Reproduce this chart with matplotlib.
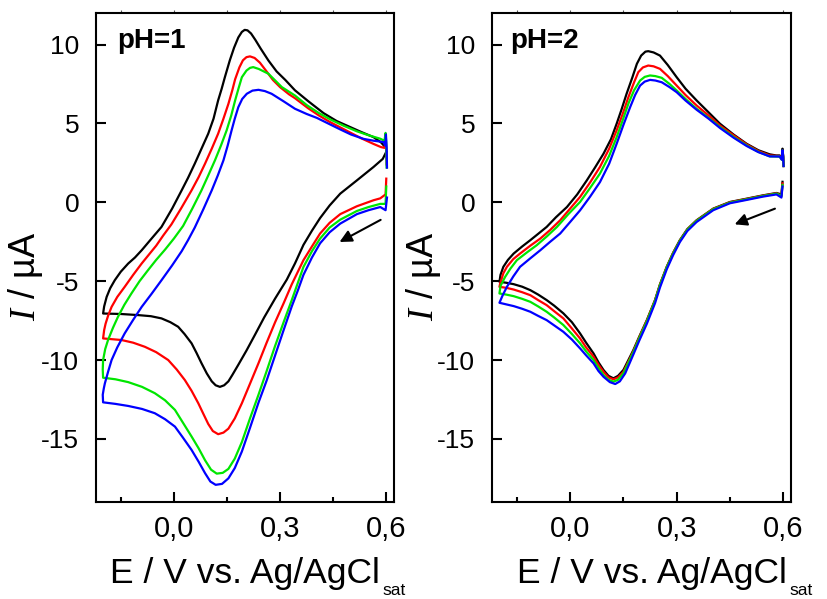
import matplotlib
matplotlib.use('Agg')
import matplotlib.pyplot as plt
from matplotlib.ticker import MultipleLocator, FuncFormatter
from matplotlib.transforms import IdentityTransform

# fonts: Arial-like text, italic serif I in the y label
plt.rcParams['font.family'] = ['Liberation Sans', 'DejaVu Sans']
plt.rcParams['mathtext.fontset'] = 'custom'
plt.rcParams['mathtext.rm'] = 'Liberation Sans'
plt.rcParams['mathtext.it'] = 'Liberation Serif:italic'
plt.rcParams['axes.unicode_minus'] = False

# ---------------- pH = 1 (each curve: cathodic sweep 0.6 -> -0.2, then anodic back to 0.6)
e_ph1_k = [0.600, 0.590, 0.564, 0.517, 0.470, 0.440, 0.413, 0.390, 0.366, 0.342, 0.319, 0.286, 0.255, 0.229,
           0.205, 0.182, 0.165, 0.154, 0.142, 0.130, 0.118, 0.107, 0.093, 0.078, 0.064, 0.050, 0.030,
           0.012, -0.010, -0.035, -0.065, -0.101, -0.150, -0.200,
           -0.197, -0.190, -0.180, -0.167, -0.150, -0.129, -0.110, -0.091, -0.065, -0.035, -0.005, 0.022,
           0.040, 0.059, 0.078, 0.097, 0.112, 0.125, 0.135, 0.144, 0.158, 0.170, 0.182, 0.192, 0.200,
           0.208, 0.218, 0.230, 0.245, 0.267, 0.290, 0.315, 0.342, 0.380, 0.423, 0.460, 0.498, 0.530,
           0.564, 0.585, 0.597]
i_ph1_k = [3.2, 2.75, 2.24, 1.39, 0.55, -0.2, -1.0, -1.8, -2.7, -3.88, -4.9, -6.1, -7.3, -8.4,
           -9.4, -10.3, -10.95, -11.35, -11.6, -11.7, -11.6, -11.35, -10.85, -10.2, -9.55, -8.94, -8.35,
           -7.89, -7.6, -7.36, -7.22, -7.15, -7.08, -7.05,
           -6.6, -6.0, -5.45, -4.94, -4.4, -3.88, -3.5, -3.04, -2.35, -1.56, -0.4, 0.76,
           1.55, 2.45, 3.4, 4.35, 5.3, 6.46, 7.2, 7.93, 9.0, 9.8, 10.45, 10.8, 10.93,
           10.9, 10.7, 10.3, 9.75, 8.99, 8.3, 7.75, 7.1, 6.4, 5.65, 5.15, 4.77, 4.45,
           4.13, 3.8, 3.5]

e_ph1_r = [0.600, 0.598, 0.583, 0.564, 0.517, 0.470, 0.440, 0.413, 0.390, 0.366, 0.333, 0.310, 0.286, 0.262,
           0.239, 0.215, 0.192, 0.172, 0.154, 0.140, 0.125, 0.110, 0.097, 0.083, 0.069, 0.050, 0.031,
           0.008, -0.016, -0.050, -0.082, -0.115, -0.148, -0.200,
           -0.197, -0.193, -0.186, -0.176, -0.160, -0.139, -0.115, -0.091, -0.070, -0.050, -0.030, -0.007,
           0.020, 0.050, 0.070, 0.088, 0.107, 0.125, 0.140, 0.154, 0.165, 0.173, 0.185, 0.195, 0.205,
           0.215, 0.228, 0.243, 0.260, 0.280, 0.300, 0.325, 0.342, 0.380, 0.410, 0.440, 0.470, 0.500,
           0.530, 0.564, 0.585, 0.595, 0.598, 0.600, 0.601]
i_ph1_r = [1.5, 0.5, 0.25, 0.13, -0.25, -0.75, -1.3, -1.98, -2.8, -3.67, -5.2, -6.4, -7.6, -8.9,
           -10.2, -11.5, -12.74, -13.7, -14.35, -14.6, -14.7, -14.5, -14.05, -13.4, -12.74, -11.95, -11.27,
           -10.6, -10.0, -9.5, -9.16, -8.9, -8.73, -8.63,
           -8.1, -7.7, -7.2, -6.63, -6.0, -5.36, -4.6, -3.88, -3.3, -2.75, -2.1, -1.4,
           -0.4, 0.76, 1.6, 2.45, 3.4, 4.35, 5.3, 6.24, 7.1, 7.8, 8.55, 9.0, 9.2,
           9.25, 9.15, 8.85, 8.35, 7.75, 7.3, 6.85, 6.6, 5.95, 5.5, 5.1, 4.75, 4.4,
           4.05, 3.7, 3.5, 3.45, 3.9, 3.4, 2.4]

e_ph1_g = [0.600, 0.598, 0.583, 0.550, 0.517, 0.470, 0.440, 0.413, 0.390, 0.366, 0.333, 0.310, 0.286, 0.262,
           0.239, 0.215, 0.192, 0.172, 0.154, 0.138, 0.121, 0.105, 0.088, 0.070, 0.050, 0.025, 0.003,
           -0.025, -0.054, -0.090, -0.129, -0.165, -0.200,
           -0.201, -0.200, -0.194, -0.186, -0.172, -0.158, -0.140, -0.120, -0.097, -0.073, -0.050, -0.025,
           0.000, 0.026, 0.052, 0.078, 0.097, 0.116, 0.133, 0.149, 0.162, 0.173, 0.183, 0.192, 0.205,
           0.215, 0.224, 0.240, 0.267, 0.305, 0.342, 0.376, 0.410, 0.442, 0.480, 0.517, 0.550, 0.583,
           0.595, 0.598, 0.600, 0.601]
i_ph1_g = [1.0, -0.1, -0.1, -0.3, -0.55, -1.1, -1.6, -2.3, -3.1, -4.1, -6.2, -7.6, -9.1, -10.7,
           -12.2, -13.7, -15.2, -16.25, -16.9, -17.15, -17.2, -16.95, -16.35, -15.6, -14.85, -13.95, -13.16,
           -12.55, -12.1, -11.7, -11.4, -11.22, -11.12,
           -10.6, -10.0, -9.3, -8.73, -7.95, -7.26, -6.5, -5.78, -5.0, -4.3, -3.65, -3.0,
           -2.3, -1.5, -0.4, 0.76, 1.7, 2.66, 3.6, 4.56, 5.5, 6.46, 7.25, 7.93, 8.35,
           8.52, 8.57, 8.45, 8.15, 7.3, 6.77, 6.15, 5.65, 5.25, 4.85, 4.5, 4.25, 4.03,
           3.9, 4.4, 3.7, 2.2]

e_ph1_b = [0.602, 0.598, 0.583, 0.550, 0.517, 0.470, 0.440, 0.413, 0.390, 0.366, 0.350, 0.333, 0.310, 0.286,
           0.262, 0.239, 0.215, 0.192, 0.172, 0.154, 0.136, 0.118, 0.103, 0.088, 0.070, 0.050, 0.025,
           0.003, -0.025, -0.054, -0.090, -0.129, -0.165, -0.200,
           -0.201, -0.198, -0.195, -0.186, -0.176, -0.160, -0.139, -0.115, -0.091, -0.063, -0.035, -0.005,
           0.022, 0.040, 0.059, 0.083, 0.107, 0.124, 0.140, 0.152, 0.163, 0.172, 0.182, 0.193,
           0.206, 0.222, 0.239, 0.257, 0.276, 0.310, 0.342, 0.375, 0.404, 0.440, 0.470, 0.500, 0.536,
           0.565, 0.592, 0.597, 0.599, 0.601, 0.602]
i_ph1_b = [0.3, -0.5, -0.3, -0.5, -0.75, -1.35, -1.9, -2.6, -3.5, -4.6, -5.6, -6.6, -8.1, -9.7,
           -11.3, -12.7, -14.3, -15.8, -16.85, -17.5, -17.85, -17.91, -17.7, -17.17, -16.45, -15.7, -14.9,
           -14.22, -13.75, -13.37, -13.1, -12.91, -12.78, -12.68,
           -12.2, -11.8, -11.48, -10.75, -10.0, -9.2, -8.31, -7.45, -6.63, -5.8, -4.94, -4.0,
           -3.1, -2.4, -1.6, -0.45, 0.76, 1.7, 2.66, 3.6, 4.56, 5.3, 6.03, 6.55,
           6.88, 7.08, 7.13, 7.05, 6.88, 6.4, 5.93, 5.6, 5.35, 4.95, 4.62, 4.3, 4.02,
           3.9, 3.82, 3.6, 4.3, 3.5, 2.2]

# ---------------- pH = 2
e_ph2_k = [0.598, 0.595, 0.581, 0.543, 0.497, 0.450, 0.403, 0.356, 0.330, 0.309, 0.290, 0.272, 0.253, 0.239,
           0.216, 0.195, 0.178, 0.150, 0.135, 0.122, 0.108, 0.094, 0.080, 0.066, 0.045, 0.028, 0.005,
           -0.019, -0.045, -0.066, -0.090, -0.112, -0.135, -0.159, -0.180, -0.199,
           -0.196, -0.188, -0.175, -0.159, -0.135, -0.112, -0.090, -0.066, -0.040, -0.009, 0.020, 0.047,
           0.070, 0.094, 0.115, 0.131, 0.145, 0.159, 0.175, 0.188, 0.200, 0.212, 0.220, 0.235, 0.253,
           0.275, 0.300, 0.325, 0.356, 0.390, 0.422, 0.460, 0.497, 0.530, 0.562, 0.580, 0.590, 0.596,
           0.598, 0.600, 0.601]
i_ph2_k = [1.3, 0.5, 0.59, 0.44, 0.23, 0.02, -0.4, -1.14, -1.7, -2.4, -3.2, -4.09, -5.2, -6.2,
           -7.47, -8.5, -9.37, -10.63, -11.0, -11.16, -11.0, -10.63, -10.15, -9.58, -8.9, -8.31, -7.6,
           -7.04, -6.55, -6.2, -5.85, -5.57, -5.35, -5.19, -5.1, -5.04,
           -4.6, -4.09, -3.65, -3.25, -2.8, -2.4, -2.0, -1.56, -0.95, -0.3, 0.5, 1.39,
           2.2, 3.08, 4.0, 4.98, 5.9, 6.88, 7.9, 8.78, 9.3, 9.55, 9.58, 9.5, 9.3,
           8.7, 7.93, 7.2, 6.46, 5.7, 4.98, 4.3, 3.71, 3.3, 3.04, 2.97, 2.97, 2.8,
           3.4, 2.9, 2.3]

e_ph2_r = [0.598, 0.595, 0.581, 0.543, 0.497, 0.450, 0.403, 0.356, 0.330, 0.309, 0.290, 0.272, 0.253, 0.239,
           0.216, 0.195, 0.178, 0.150, 0.135, 0.122, 0.108, 0.094, 0.080, 0.066, 0.045, 0.028, 0.005,
           -0.019, -0.045, -0.066, -0.090, -0.112, -0.135, -0.159, -0.180, -0.199,
           -0.197, -0.188, -0.178, -0.160, -0.141, -0.112, -0.084, -0.056, -0.028, 0.000, 0.028, 0.056,
           0.084, 0.110, 0.131, 0.148, 0.164, 0.180, 0.192, 0.205, 0.220, 0.235, 0.253,
           0.275, 0.300, 0.325, 0.356, 0.390, 0.422, 0.460, 0.497, 0.530, 0.562, 0.590, 0.596,
           0.598, 0.600, 0.601]
i_ph2_r = [1.2, 0.4, 0.57, 0.42, 0.21, 0.0, -0.42, -1.16, -1.72, -2.42, -3.22, -4.11, -5.22, -6.22,
           -7.5, -8.55, -9.45, -10.75, -11.1, -11.22, -11.1, -10.74, -10.3, -9.79, -9.2, -8.63, -8.0,
           -7.36, -6.9, -6.52, -6.2, -5.89, -5.7, -5.53, -5.42, -5.36,
           -5.15, -4.5, -4.09, -3.6, -3.25, -2.75, -2.3, -1.75, -1.14, -0.4, 0.34, 1.25,
           2.24, 3.4, 4.56, 5.6, 6.66, 7.6, 8.25, 8.55, 8.67, 8.62, 8.46,
           8.0, 7.4, 6.8, 6.14, 5.5, 4.87, 4.25, 3.67, 3.25, 2.97, 2.93, 2.75,
           3.3, 2.9, 2.3]

e_ph2_g = [0.598, 0.595, 0.581, 0.543, 0.497, 0.450, 0.403, 0.356, 0.330, 0.309, 0.290, 0.272, 0.253, 0.239,
           0.216, 0.195, 0.178, 0.150, 0.135, 0.122, 0.108, 0.094, 0.080, 0.066, 0.045, 0.028, 0.005,
           -0.019, -0.045, -0.066, -0.090, -0.112, -0.135, -0.159, -0.180, -0.199,
           -0.196, -0.183, -0.168, -0.150, -0.120, -0.094, -0.065, -0.037, -0.005, 0.028, 0.056,
           0.084, 0.110, 0.131, 0.148, 0.164, 0.180, 0.197, 0.210, 0.225, 0.240, 0.258,
           0.280, 0.300, 0.325, 0.356, 0.390, 0.422, 0.460, 0.497, 0.530, 0.562, 0.590, 0.596,
           0.598, 0.600, 0.601]
i_ph2_g = [1.1, 0.4, 0.55, 0.4, 0.19, -0.02, -0.44, -1.18, -1.74, -2.44, -3.25, -4.13, -5.25, -6.25,
           -7.55, -8.6, -9.5, -10.85, -11.25, -11.37, -11.25, -10.95, -10.5, -10.0, -9.45, -8.94, -8.35,
           -7.78, -7.3, -6.94, -6.6, -6.31, -6.12, -5.95, -5.85, -5.78,
           -5.3, -4.73, -4.2, -3.67, -3.15, -2.72, -2.15, -1.56, -0.75, 0.02, 0.9,
           1.82, 2.95, 4.13, 5.2, 6.25, 7.1, 7.72, 7.95, 8.04, 8.0, 7.89,
           7.5, 7.09, 6.55, 5.93, 5.35, 4.77, 4.15, 3.61, 3.2, 2.91, 2.9, 2.7,
           3.3, 2.85, 2.3]

e_ph2_b = [0.598, 0.595, 0.581, 0.543, 0.497, 0.450, 0.403, 0.356, 0.330, 0.309, 0.290, 0.272, 0.253, 0.239,
           0.216, 0.195, 0.178, 0.155, 0.140, 0.127, 0.112, 0.094, 0.080, 0.066, 0.045, 0.028, 0.005,
           -0.019, -0.045, -0.066, -0.090, -0.112, -0.135, -0.159, -0.180, -0.199,
           -0.190, -0.178, -0.160, -0.141, -0.112, -0.084, -0.056, -0.028, 0.000, 0.028, 0.056,
           0.084, 0.110, 0.131, 0.150, 0.169, 0.183, 0.197, 0.210, 0.225, 0.240, 0.258,
           0.280, 0.300, 0.325, 0.356, 0.390, 0.422, 0.460, 0.497, 0.530, 0.562, 0.590, 0.596,
           0.598, 0.600, 0.601]
i_ph2_b = [1.0, 0.3, 0.5, 0.36, 0.15, -0.06, -0.5, -1.25, -1.82, -2.52, -3.35, -4.25, -5.4, -6.4,
           -7.7, -8.75, -9.65, -10.85, -11.35, -11.52, -11.4, -11.06, -10.7, -10.21, -9.7, -9.26, -8.7,
           -8.21, -7.8, -7.47, -7.2, -6.94, -6.75, -6.58, -6.47, -6.37,
           -5.9, -5.36, -4.7, -4.09, -3.55, -3.04, -2.5, -1.98, -1.25, -0.51, 0.35,
           1.28, 2.45, 3.71, 4.9, 6.03, 6.8, 7.4, 7.65, 7.76, 7.72, 7.61,
           7.3, 6.98, 6.45, 5.87, 5.3, 4.71, 4.1, 3.57, 3.18, 2.91, 2.9, 2.7,
           3.3, 2.85, 2.3]

colors = ['#000000', '#ff0000', '#00e600', '#0000ff']
panel_labels = ['pH=1', 'pH=2']
xticks = [0.0, 0.3, 0.6]

fig = plt.figure(figsize=(8.27, 5.99), dpi=100)
ax1 = fig.add_axes([0.1161, 0.1619, 0.3604, 0.8164])
ax2 = fig.add_axes([0.5949, 0.1619, 0.3616, 0.8164])

curves1 = [(e_ph1_k, i_ph1_k), (e_ph1_r, i_ph1_r), (e_ph1_g, i_ph1_g), (e_ph1_b, i_ph1_b)]
curves2 = [(e_ph2_k, i_ph2_k), (e_ph2_r, i_ph2_r), (e_ph2_g, i_ph2_g), (e_ph2_b, i_ph2_b)]

comma = FuncFormatter(lambda v, p: ('%.1f' % v).replace('.', ','))

for ax, curves, lab, lx in [(ax1, curves1, panel_labels[0], 0.07), (ax2, curves2, panel_labels[1], 0.06)]:
    for (e, i), c in zip(curves, colors):
        ax.plot(e, i, color=c, lw=1.6, solid_joinstyle='round')
    ax.set_xlim(-0.22, 0.622)
    ax.set_ylim(-19, 12)
    ax.set_xticks(xticks)
    ax.xaxis.set_minor_locator(MultipleLocator(0.15))
    ax.yaxis.set_major_locator(MultipleLocator(5))
    ax.xaxis.set_major_formatter(comma)
    ax.tick_params(which='both', direction='in', width=1.5)
    ax.tick_params(which='major', length=7)
    ax.tick_params(which='minor', length=3.5)
    ax.tick_params(axis='x', pad=9, labelsize=21)
    ax.tick_params(axis='y', pad=12, labelsize=19)
    for s in ax.spines.values():
        s.set_linewidth(1.5)
    # tiny outward ticks along the top frame
    top = ax.secondary_xaxis('top')
    top.set_xticks(xticks)
    top.xaxis.set_minor_locator(MultipleLocator(0.15))
    top.tick_params(which='both', direction='out', length=2.5, width=0.8, color='#555555', labeltop=False)
    top.spines['top'].set_visible(False)
    ax.set_xlabel('E / V vs. Ag/AgCl', fontsize=25.5)
    ax.set_ylabel(r'$I$ / µA', fontsize=26)
    ax.text(lx, 0.970, lab, transform=ax.transAxes, fontsize=20, fontweight='bold',
            ha='left', va='top')

ax1.xaxis.set_label_coords(0.5, -0.112)
ax2.xaxis.set_label_coords(0.535, -0.112)
ax1.yaxis.set_label_coords(-0.170, 0.461)
ax2.yaxis.set_label_coords(-0.165, 0.461)

# scan direction arrows
arrow = dict(arrowstyle='-|>', color='k', lw=1.5, mutation_scale=18)
ax1.annotate('', xy=(0.461, -2.6), xytext=(0.591, -1.03), arrowprops=arrow)
ax2.annotate('', xy=(0.456, -1.46), xytext=(0.584, -0.34), arrowprops=arrow)

# small, low "sat" subscript after each x label
fig.canvas.draw()
rend = fig.canvas.get_renderer()
for ax in [ax1, ax2]:
    bb = ax.xaxis.label.get_window_extent(rend)
    fig.text(bb.x1 + 3, 4, 'sat', transform=IdentityTransform(), fontsize=12.5,
             ha='left', va='baseline')

fig.savefig('out.png', dpi=100)
